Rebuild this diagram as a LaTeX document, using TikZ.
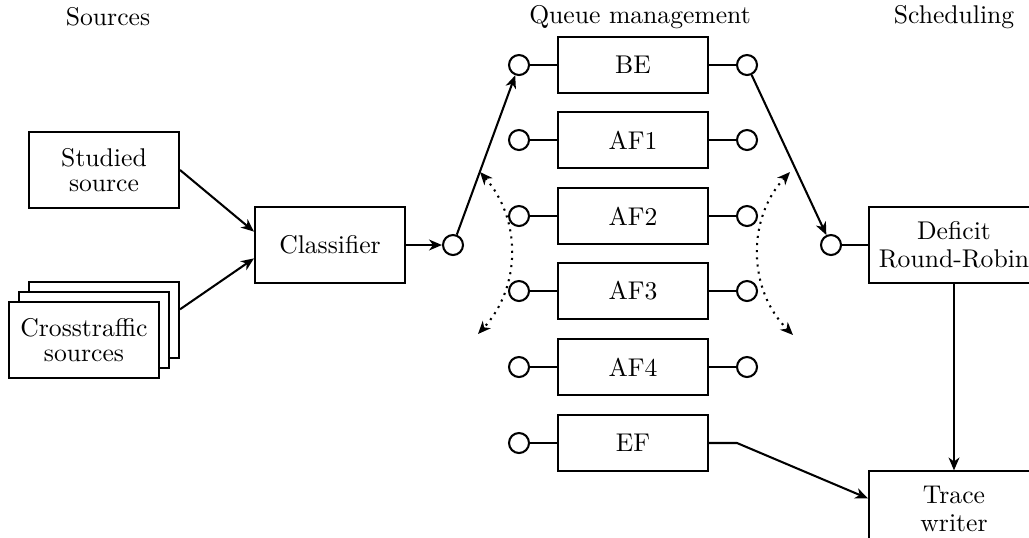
\documentclass[tikz,border=0pt]{standalone}
\usetikzlibrary{arrows.meta}

\begin{document}
\begin{tikzpicture}[x=.39pt,y=-.39pt,>={Stealth[length=5pt,width=4.2pt,inset=1.5pt]},
  box/.style={draw,line width=.8pt,minimum width=58.5pt,minimum height=21.8pt,
              align=center,fill=white,font=\fontsize{10}{10}\selectfont},
  tall/.style={box,minimum height=29.3pt},
  wide/.style={tall,minimum width=66.3pt,font=\fontsize{10}{11}\selectfont},
  port/.style={circle,draw,line width=.8pt,minimum size=7.8pt,inner sep=0pt,fill=white},
  wire/.style={line width=.8pt},
  link/.style={->,line width=.8pt},
  swap/.style={<->,dotted,line width=.8pt}]
\useasboundingbox (0,0) rectangle (1029,537);
\node (sources) at (108,17) {Sources};
\node (queues) at (640,17) {Queue management};
\node (sched) at (954,17) {Scheduling};
% sources
\node[tall] (studied) at (104,170) {Studied\\source};
\node[tall] (cross3) at (104,320) {};
\node[tall] (cross2) at (94,330) {};
\node[tall] (cross) at (84,340) {Crosstraffic\\sources};
\node[tall] (classifier) at (330,245) {Classifier};
\node[port] (mux) at (453,245) {};
\draw[link] (studied.east) -- (classifier.170);
\draw[link] (cross3.8) -- (classifier.190);
\draw[link] (classifier) -- (mux);
% queues
\foreach \y/\name in
  {65/BE,
   140/AF1,
   216/AF2,
   291/AF3,
   367/AF4,
   443/EF}
{
  \node[box] (\name) at (633,\y) {\name};
  \node[port] (\name-in) at (519,\y) {};
  \draw[wire] (\name-in) -- (\name);
}
\foreach \y/\name in {65/BE,140/AF1,216/AF2,291/AF3,367/AF4}
{
  \node[port] (\name-out) at (747,\y) {};
  \draw[wire] (\name) -- (\name-out);
}
\draw[link] (mux) -- (BE-in);
% switching
\coordinate (lt) at (480,172);
\coordinate (lb) at (478,334);
\coordinate (rt) at (790,172);
\coordinate (rb) at (793,335);
\draw[swap] (lt) to[bend left=42] (lb);
\draw[swap] (rt) to[bend right=44] (rb);
% scheduling
\node[port] (drr-in) at (831,245) {};
\node[wide] (drr) at (954,245) {Deficit\\Round-Robin};
\node[wide] (trace) at (954,509) {Trace\\writer};
\draw[wire] (drr-in) -- (drr);
\draw[link] (BE-out) -- (drr-in);
\draw[link] (drr) -- (trace);
\coordinate (ef-bend) at (737,443);
\draw[link] (EF) -- (ef-bend) -- (trace.173);
\end{tikzpicture}
\end{document}
